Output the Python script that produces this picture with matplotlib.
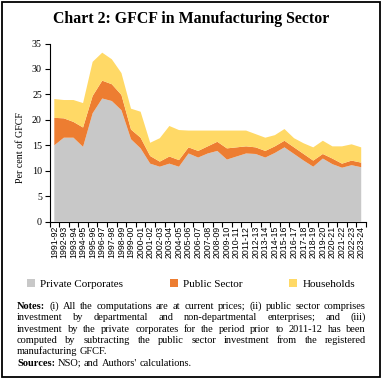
import matplotlib
matplotlib.use("Agg")
import matplotlib.pyplot as plt
from matplotlib.patches import Rectangle

years = ["1991-92", "1992-93", "1993-94", "1994-95", "1995-96", "1996-97", "1997-98",
         "1998-99", "1999-00", "2000-01", "2001-02", "2002-03", "2003-04", "2004-05",
         "2005-06", "2006-07", "2007-08", "2008-09", "2009-10", "2010-11", "2011-12",
         "2012-13", "2013-14", "2014-15", "2015-16", "2016-17", "2017-18", "2018-19",
         "2019-20", "2020-21", "2021-22", "2022-23", "2023-24"]

private_corp = [15.0, 16.5, 16.5, 14.7, 21.3, 24.2, 23.7, 21.9, 16.2, 14.4, 11.4, 10.8, 11.4,
                10.8, 13.4, 12.6, 13.4, 13.9, 12.2, 12.8, 13.4, 13.3, 12.6, 13.5, 14.6, 13.3,
                12.0, 10.8, 12.4, 11.3, 10.6, 11.1, 10.7]
public_sector = [5.4, 3.8, 3.1, 3.8, 3.4, 3.5, 3.3, 3.0, 1.9, 2.1, 1.5, 1.0, 1.4, 1.3, 1.2,
                 1.3, 1.4, 1.8, 2.2, 1.8, 1.4, 1.3, 1.3, 1.3, 1.3, 1.3, 1.3, 1.2, 0.9, 1.1,
                 0.8, 0.9, 0.9]
households = [3.7, 3.6, 4.3, 4.8, 6.7, 5.5, 4.9, 4.3, 4.1, 5.1, 2.6, 4.6, 6.0, 5.9, 3.3, 4.0,
              3.1, 2.2, 3.5, 3.3, 3.1, 2.6, 2.6, 2.2, 2.3, 1.8, 2.1, 2.6, 2.6, 2.4, 3.4, 3.2,
              3.0]

series_labels = ["Private Corporates", "Public Sector", "Households"]
colors = ["#C8C8C8", "#ED7D31", "#FFD966"]

W, H = 383, 380
fig = plt.figure(figsize=(W / 100, H / 100), dpi=100)

# frame round the whole chart
fig.patches.append(Rectangle((2 / W, 3 / H), 378 / W, 375 / H, transform=fig.transFigure,
                             fill=False, edgecolor="black", linewidth=1.3))

fig.text(0.5, 1 - 19 / H, "Chart 2: GFCF in Manufacturing Sector", ha="center", va="center",
         fontsize=11.4, weight="bold", family="Liberation Serif")

ax = fig.add_axes([49.5 / W, 1 - 221.7 / H, 316.5 / W, 178.2 / H])
x = list(range(len(years)))
ax.stackplot(x, private_corp, public_sector, households, colors=colors,
             labels=series_labels, linewidth=0)

ax.set_xlim(-0.5, len(years) - 0.5)
ax.set_ylim(0, 35)
ax.set_yticks(range(0, 36, 5))
ax.set_xticks(x)
ax.set_xticklabels(years, rotation=90, fontsize=6.3, family="Liberation Sans")
ax.set_xticks([i - 0.5 for i in range(len(years) + 1)], minor=True)
ax.tick_params(axis="x", which="major", length=0, pad=3)
ax.tick_params(axis="x", which="minor", length=3.5, width=0.8, direction="out")
ax.tick_params(axis="y", length=3.5, width=0.8, pad=2)
for lab in ax.get_yticklabels():
    lab.set_fontsize(7.2)
    lab.set_family("Liberation Serif")
for s in ["top", "right"]:
    ax.spines[s].set_visible(False)
for s in ["left", "bottom"]:
    ax.spines[s].set_linewidth(0.8)

fig.text(20.5 / W, 1 - 148 / H, "Per cent of GFCF", rotation=90, ha="center", va="center",
         fontsize=7.2, family="Liberation Serif")

fig.legend(loc="center", bbox_to_anchor=(191 / W, 1 - 284 / H), ncol=3, frameon=False,
           prop={"family": "Liberation Serif", "size": 8}, handlelength=0.7,
           handleheight=0.7, handletextpad=0.5, columnspacing=4.2)

# notes, justified like the source
note_lines = [
    ([("Notes:", True)] + [(w, False) for w in
      "(i) All the computations are at current prices; (ii) public sector comprises".split()], True),
    ([(w, False) for w in
      "investment by departmental and non-departmental enterprises; and (iii)".split()], True),
    ([(w, False) for w in
      "investment by the private corporates for the period prior to 2011-12 has been".split()], True),
    ([(w, False) for w in
      "computed by subtracting the public sector investment from the registered".split()], True),
    ([(w, False) for w in "manufacturing GFCF.".split()], False),
    ([("Sources:", True)] + [(w, False) for w in "NSO; and Authors' calculations.".split()], False),
]
line_y = [306.5, 317.5, 329, 340.5, 351.5, 363]
x0, x1 = 17.0, 366.0
renderer = fig.canvas.get_renderer()
for (words, justify), yy in zip(note_lines, line_y):
    texts = [fig.text(0, 1 - yy / H, w, fontsize=7.5, family="Liberation Serif",
                      weight="bold" if b else "normal", va="center") for w, b in words]
    widths = [t.get_window_extent(renderer).width for t in texts]
    if justify and len(texts) > 1:
        gap = (x1 - x0 - sum(widths)) / (len(texts) - 1)
    else:
        gap = 2.6
    xp = x0
    for t, w in zip(texts, widths):
        t.set_x(xp / W)
        xp += w + gap

fig.savefig("out.png", dpi=100)
